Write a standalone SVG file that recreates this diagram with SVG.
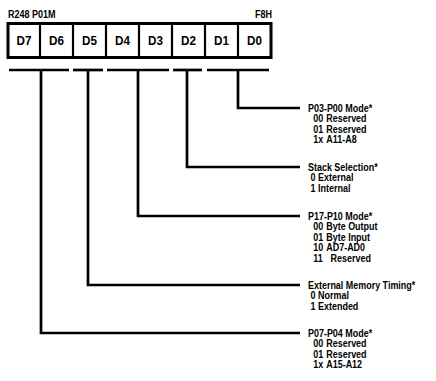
<svg xmlns="http://www.w3.org/2000/svg" width="436" height="381" viewBox="0 0 436 381">
<style>
text{font-family:"Liberation Sans",Arial,sans-serif;font-weight:bold;fill:#000}
.lbl{font-size:10.3px}
.cell{font-size:13px;text-anchor:middle}
.hdr{font-size:10px}
.ln{stroke:#000;stroke-width:2.7;fill:none;stroke-linecap:butt}
</style>
<rect width="436" height="381" fill="#fff"/>
<g id="register">
<text class="hdr" transform="translate(8,18) scale(0.9,1)">R248 P01M</text>
<text class="hdr" text-anchor="end" transform="translate(272,18) scale(0.9,1)">F8H</text>
<rect x="8" y="23.5" width="263" height="34" fill="#fff" stroke="#000" stroke-width="3"/>
<g stroke="#000" stroke-width="2.2">
<line x1="40" y1="23" x2="40" y2="58"/>
<line x1="73" y1="23" x2="73" y2="58"/>
<line x1="106" y1="23" x2="106" y2="58"/>
<line x1="139" y1="23" x2="139" y2="58"/>
<line x1="172" y1="23" x2="172" y2="58"/>
<line x1="205" y1="23" x2="205" y2="58"/>
<line x1="238" y1="23" x2="238" y2="58"/>
</g>
<text class="cell" transform="translate(24,45) scale(0.9,1)">D7</text>
<text class="cell" transform="translate(56.5,45) scale(0.9,1)">D6</text>
<text class="cell" transform="translate(89.5,45) scale(0.9,1)">D5</text>
<text class="cell" transform="translate(122.5,45) scale(0.9,1)">D4</text>
<text class="cell" transform="translate(155.5,45) scale(0.9,1)">D3</text>
<text class="cell" transform="translate(188.5,45) scale(0.9,1)">D2</text>
<text class="cell" transform="translate(221.5,45) scale(0.9,1)">D1</text>
<text class="cell" transform="translate(254.5,45) scale(0.9,1)">D0</text>
</g>
<g id="connectors" class="ln">
<line x1="9" y1="70" x2="69" y2="70"/>
<line x1="73" y1="70" x2="103" y2="70"/>
<line x1="107" y1="70" x2="169" y2="70"/>
<line x1="173" y1="70" x2="202" y2="70"/>
<line x1="207" y1="70" x2="269" y2="70"/>
<polyline points="238,70 238,108 300,108"/>
<polyline points="187,70 187,167 300,167"/>
<polyline points="138,70 138,216 300,216"/>
<polyline points="88,70 88,285 300,285"/>
<polyline points="41,70 41,333 300,333"/>
</g>
<g id="p03-p00">
<text class="lbl" transform="translate(308,112) scale(0.87,1)"><tspan x="0" y="0">P03-P00 Mode*</tspan><tspan x="6" y="10.5">00</tspan><tspan x="21" y="10.5">Reserved</tspan><tspan x="6" y="21">01</tspan><tspan x="21" y="21">Reserved</tspan><tspan x="6" y="31.5">1x</tspan><tspan x="21" y="31.5">A11-A8</tspan></text>
</g>
<g id="stack">
<text class="lbl" transform="translate(308,171) scale(0.87,1)"><tspan x="0" y="0">Stack Selection*</tspan><tspan x="3" y="10.5">0 External</tspan><tspan x="3" y="21">1 Internal</tspan></text>
</g>
<g id="p17-p10">
<text class="lbl" transform="translate(308,220) scale(0.87,1)"><tspan x="0" y="0">P17-P10 Mode*</tspan><tspan x="6" y="10.5">00</tspan><tspan x="21" y="10.5">Byte Output</tspan><tspan x="6" y="21">01</tspan><tspan x="21" y="21">Byte Input</tspan><tspan x="6" y="31.5">10</tspan><tspan x="21" y="31.5">AD7-AD0</tspan><tspan x="6" y="42">11</tspan><tspan x="26" y="42">Reserved</tspan></text>
</g>
<g id="ext-mem">
<text class="lbl" transform="translate(308,289) scale(0.87,1)"><tspan x="0" y="0">External Memory Timing*</tspan><tspan x="3" y="10.5">0 Normal</tspan><tspan x="3" y="21">1 Extended</tspan></text>
</g>
<g id="p07-p04">
<text class="lbl" transform="translate(308,337) scale(0.87,1)"><tspan x="0" y="0">P07-P04 Mode*</tspan><tspan x="6" y="10.5">00</tspan><tspan x="21" y="10.5">Reserved</tspan><tspan x="6" y="21">01</tspan><tspan x="21" y="21">Reserved</tspan><tspan x="6" y="31.5">1x</tspan><tspan x="21" y="31.5">A15-A12</tspan></text>
</g>
</svg>
